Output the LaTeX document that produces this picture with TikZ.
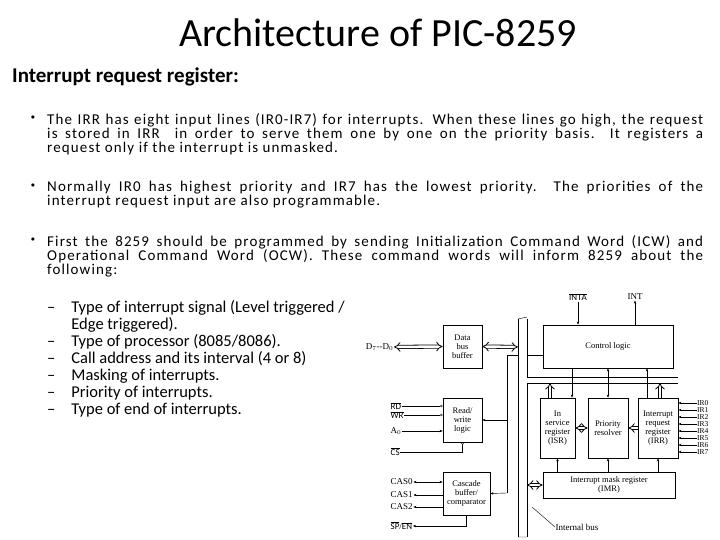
\documentclass[tikz,border=0pt]{standalone}
\usepackage{fontspec}
\setmainfont{Carlito}
\newfontfamily\diagfont{Liberation Serif}
\newfontfamily\widefont[LetterSpace=7.5]{Carlito}
\usetikzlibrary{arrows.meta,positioning}
\tikzset{
    blk/.style={draw, thick, align=center, font=\diagfont\fontsize{8.5}{9}\selectfont, inner sep=1pt},
    lbl/.style={font=\diagfont\fontsize{9}{9}\selectfont, inner sep=0.5pt},
    irlbl/.style={font=\diagfont\fontsize{7.5}{7.5}\selectfont, inner sep=0pt},
    sig/.style={-{Stealth[length=3pt,width=2.5pt]}},
    dsig/.style={{Stealth[length=3pt,width=2.5pt]}-{Stealth[length=3pt,width=2.5pt]}},
    hol/.style={double, double distance=2.5pt, thick, {Implies}-{Implies}},
    holup/.style={double, double distance=2.5pt, thick, -{Implies}},
    para/.style={anchor=north west, text width=656pt, align=justify, inner sep=0pt, font=\widefont\fontsize{15}{14}\selectfont},
}
\begin{document}
\begin{tikzpicture}[x=1pt,y=-1pt]
    \useasboundingbox (0,0) rectangle (720,540);

    % heading and text
    \node[font=\fontsize{40}{40}\selectfont] (title) at (378,33) {Architecture of PIC-8259};
    \node[anchor=west, font=\bfseries\fontsize{21}{21}\selectfont, inner sep=0pt] (sub) at (12,77) {Interrupt request register:};
    \foreach \y [count=\p] in {119,187,241} {
        \node[font=\fontsize{8}{8}\selectfont, inner sep=0pt] (dot\p) at (33,\y-1) {$\bullet$};};
    \node[para] (b1) at (47,113) {The IRR has eight input lines (IR0-IR7) for interrupts. When these lines go high, the request\linebreak is stored in IRR\ \ in order to serve them one by one on the priority basis. It registers a\linebreak request only if the interrupt is unmasked.};
    \node[para] (b2) at (47,181) {Normally IR0 has highest priority and IR7 has the lowest priority. The priorities of the\linebreak interrupt request input are also programmable.};
    \node[para] (b3) at (47,235) {First the 8259 should be programmed by sending Initialization Command Word (ICW) and\linebreak Operational Command Word (OCW). These command words will inform 8259 about the\linebreak following:};
    \node[anchor=north west, inner sep=0pt, font=\fontsize{16.5}{17}\selectfont] (list) at (47,300)
    {\begin{tabular}{@{}l@{\hspace{16pt}}l@{}}
     -- & Type of interrupt signal (Level triggered /\\
        & Edge triggered).\\
     -- & Type of processor (8085/8086).\\
     -- & Call address and its interval (4 or 8)\\
     -- & Masking of interrupts.\\
     -- & Priority of interrupts.\\
     -- & Type of end of interrupts.
     \end{tabular}};

    % blocks
    \node[blk, minimum width=39pt, minimum height=43pt] (dbb) at (462.5,346.5) {Data\\bus\\buffer};
    \node[blk, minimum width=39pt, minimum height=44pt] (rw) at (462.5,420) {Read/\\write\\logic};
    \node[blk, minimum width=47pt, minimum height=43pt] (cas) at (466.5,493.5) {Cascade\\buffer/\\comparator};
    \node[blk, minimum width=130pt, minimum height=43pt] (ctl) at (608,346.5) {Control logic};
    \node[blk, minimum width=35pt, minimum height=60pt] (isr) at (557.5,428) {In\\service\\register\\(ISR)};
    \node[blk, minimum width=40pt, minimum height=60pt] (pr) at (608,428) {Priority\\resolver};
    \node[blk, minimum width=40pt, minimum height=60pt] (irr) at (658,428) {Interrupt\\request\\register\\(IRR)};
    \node[blk, minimum width=132pt, minimum height=26pt] (imr) at (609,485) {Interrupt mask register\\(IMR)};

    % left labels
    \node[lbl, anchor=east] (d7) at (394,347) {D$_7$--D$_0$};
    \node[lbl, anchor=west] (rd) at (390,406) {$\overline{\mathrm{RD}}$};
    \node[lbl, anchor=west] (wr) at (390,415) {$\overline{\mathrm{WR}}$};
    \node[lbl, anchor=west] (a0) at (390,431) {A$_0$};
    \node[lbl, anchor=west] (cs) at (390,452) {$\overline{\mathrm{CS}}$};
    \node[lbl, anchor=west] (cas0) at (390,482) {CAS0};
    \node[lbl, anchor=west] (cas1) at (390,495) {CAS1};
    \node[lbl, anchor=west] (cas2) at (390,507) {CAS2};
    \node[lbl, anchor=west] (spen) at (390,526) {$\overline{\mathrm{SP}}$/$\overline{\mathrm{EN}}$};
    \draw[-{Circle[open,length=2.5pt]}] (rd.east) -- (rw.west |- rd.east);
    \draw[-{Circle[open,length=2.5pt]}] (wr.east) -- (rw.west |- wr.east);
    \draw[sig] (a0.east) -- (rw.west |- a0.east);
    \draw[-{Circle[open,length=2.5pt]}] (cs.east) -| (rw.south);
    \draw[dsig] (cas0.east) -- (cas.west |- cas0.east);
    \draw[sig] (cas.west |- cas1.east) -- (cas1.east);
    \draw[sig] (cas.west |- cas2.east) -- (cas2.east);
    \draw[sig] (cas.south) |- (spen.east);

    % internal bus
    \draw[thick] (518,319) -- (518,537) (527,319) -- (527,377) -- (678,377)
        (527,383) -- (527,537) (527,383) -- (678,383);
    \draw (518,319) -- (527,317) (518,537) -- (527,537);
    \coordinate (busl) at (518,347);
    \coordinate (busr) at (527,485);
    \draw[hol] (dbb.east) -- (busl);
    \draw[hol] (busr) -- (imr.west);
    \draw[hol] (d7.east) -- (dbb.west);
    \draw[thick] (ctl.west |- 0,355) -- (527,355);

    % internal bus label
    \node[lbl, anchor=west] (ibus) at (555,527) {Internal bus};
    \draw (ibus.west) -- (532,507);

    % link from bus to rw and cascade
    \draw (518,355) -- (507,355) -- (507,493);
    \draw[sig] (507,420) -- (rw.east);
    \draw[sig] (507,493) -- (cas.east);

    % top signals
    \node[lbl] (inta) at (578,297) {$\overline{\mathrm{INTA}}$};
    \node[lbl] (int) at (635,297) {INT};
    \draw[sig] (inta.south) -- (inta.south |- ctl.north);
    \draw[sig] (int.south |- ctl.north) -- (int.south);

    % links between registers
    \draw[sig] (ctl.south -| 572,0) -- (isr.north -| 572,0);
    \draw[dsig] (ctl.south -| pr.north) -- (pr.north);
    \draw[sig] (irr.north -| 647,0) -- (ctl.south -| 647,0);
    \draw[holup] (isr.north -| 550,0) -- (550,383);
    \draw[holup] (irr.north -| 660,0) -- (660,383);
    \draw[hol] (isr.east) -- (pr.west);
    \draw[double, double distance=2.5pt, thick, -{Implies}] (irr.west) -- (pr.east);
    \foreach \s in {isr,pr,irr} {
        \draw[sig] (imr.north -| \s.south) -- (\s.south);}

    % IR inputs
    \foreach \i in {0,...,7} {
        \node[irlbl, anchor=west] (ir\i) at (697,403+\i*7) {IR\i};
        \draw[sig] (ir\i.west) -- (irr.east |- ir\i.west);}

\end{tikzpicture}
\end{document}
